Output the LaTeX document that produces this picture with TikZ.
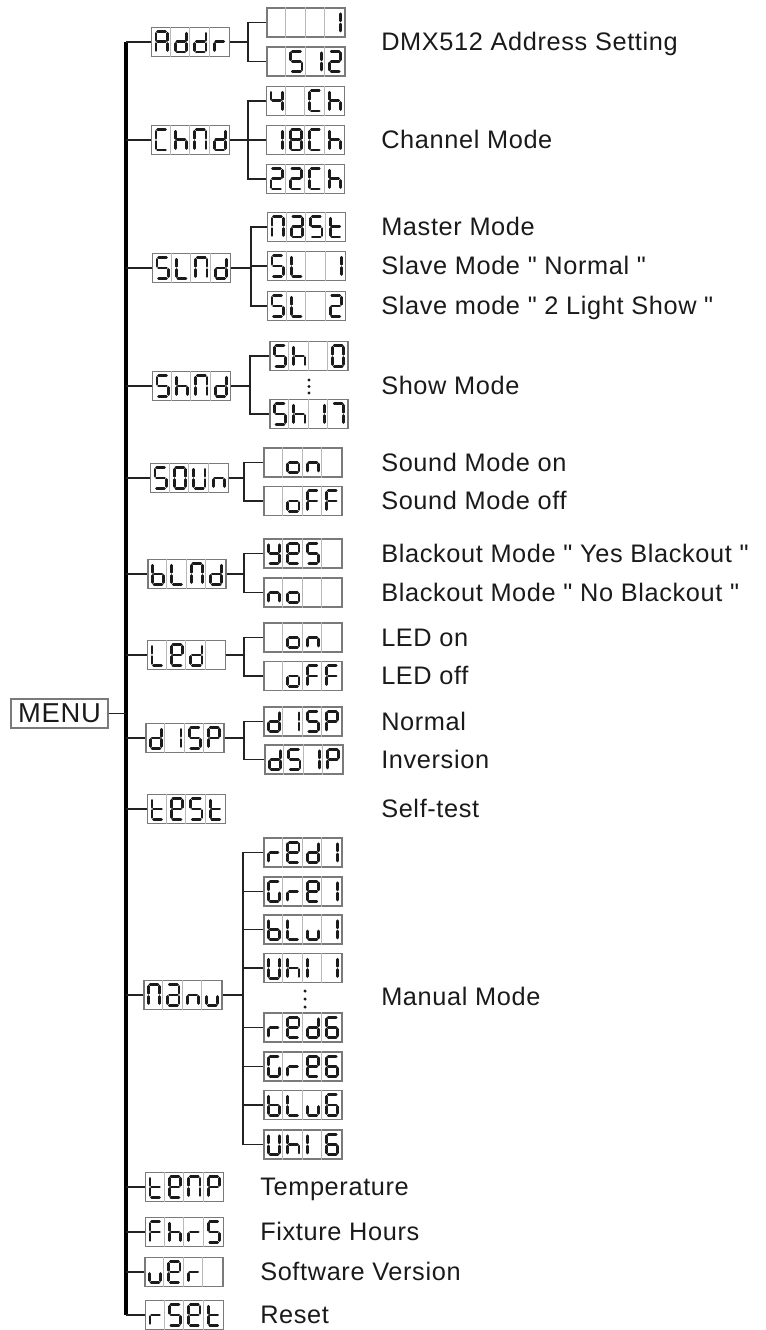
\documentclass[tikz,border=0pt]{standalone}
\usepackage{fontspec}
\newfontfamily\labfont{Liberation Sans}[LetterSpace=2.5]
\usetikzlibrary{calc}
\definecolor{ink}{HTML}{1A1A1A}
\definecolor{boxgray}{HTML}{7A7A7A}
\definecolor{divgray}{HTML}{B8B8B8}
\definecolor{linecol}{HTML}{222222}
% segment lists
\def\sdA{a,b,c,e,f,g}
\def\sdd{b,c,d,e,g}
\def\sdr{e,g}
\def\sdC{a,d,e,f}
\def\sdh{c,e,f,g}
\def\sdN{a,b,c,e,f}
\def\sdS{a,c,d,f,g}
\def\sdL{d,e,f}
\def\sdO{a,b,c,d,e,f}
\def\sdU{b,c,d,e,f}
\def\sdn{c,e,g}
\def\sdo{c,d,e,g}
\def\sdF{a,e,f,g}
\def\sdb{c,d,e,f,g}
\def\sdE{a,b,d,e,f,g}
\def\sdy{b,c,d,f,g}
\def\sdP{a,b,e,f,g}
\def\sdt{d,e,f,g}
\def\sdI{b,c}
\def\sdi{e,f}
\def\sdu{c,d,e}
\def\sdG{a,c,d,e,f}
\def\sdsix{a,c,d,e,f,g}
\def\sdseven{a,b,c}
\def\sdtwo{a,b,d,e,g}
\def\sdfour{b,c,f,g}
\def\sdeight{a,b,c,d,e,f,g}
\def\sda{a,b,c,d,e,g}
\def\sdX{z}
\newcommand\sdglyph[3]{\begin{scope}[shift={(#1,#2)}]\foreach \s in #3 {\edef\sdtmp{\noexpand\draw[segline,sg\s];}\sdtmp}\end{scope}}
\newcommand\disp[7]{%
 \node[dispbox] (#1) at (#2,#3) {};
 \foreach \k in {1,2,3}{\draw[celldiv] ($(#1.north west)+(19.4*\k,0)$) -- ($(#1.south west)+(19.4*\k,0)$);}
 \sdglyph{#2-38.8}{#3-14.5}{#4}%
 \sdglyph{#2-19.4}{#3-14.5}{#5}%
 \sdglyph{#2}{#3-14.5}{#6}%
 \sdglyph{#2+19.4}{#3-14.5}{#7}%
}
\newcommand\lbl[4]{\node[lab] (#1) at (#2,#3+8.5) {#4};}
\begin{document}
\begin{tikzpicture}[x=0.75pt,y=-0.75pt,
 sga/.style={insert path={(5.8,4.2)--(13.8,4.2)}},
 sgb/.style={insert path={(15.4,5.8)--(15.4,12.8)}},
 sgc/.style={insert path={(15.4,16.0)--(15.4,23.0)}},
 sgd/.style={insert path={(5.8,24.6)--(13.8,24.6)}},
 sge/.style={insert path={(4.2,16.0)--(4.2,23.0)}},
 sgf/.style={insert path={(4.2,5.8)--(4.2,12.8)}},
 sgg/.style={insert path={(5.8,14.4)--(13.8,14.4)}},
 sgz/.style={},
 segline/.style={line width=2.1pt,line cap=round,draw=ink},
 dispbox/.style={draw=boxgray,line width=1.1pt,minimum width=58.2pt,minimum height=21.75pt,inner sep=0pt},
 celldiv/.style={draw=divgray,line width=0.6pt},
 conn/.style={draw=linecol,line width=1.1pt},
 trunk/.style={draw=black,line width=2.3pt},
 lab/.style={anchor=base west,inner sep=0pt,text=ink,font=\labfont\fontsize{19}{22}\selectfont},
 menubox/.style={draw=boxgray,line width=1.4pt,minimum width=72.75pt,minimum height=21.75pt,inner sep=0pt,text=ink,font=\labfont\fontsize{20.5}{22}\selectfont},
 dotm/.style={fill=ink,draw=none}
]
\useasboundingbox (0,0) rectangle (765,1330);
\coordinate (T) at (126,0);
% MENU
\node[menubox] (MENU) at (59.5,713.5) {MENU};
% Addr
\disp{Addr}{190.5}{42}{\sdA}{\sdd}{\sdd}{\sdr}
\disp{A1}{306}{22.5}{\sdX}{\sdX}{\sdX}{\sdI}
\disp{A2}{306}{61.5}{\sdX}{\sdS}{\sdI}{\sdtwo}
\coordinate (bA) at (248,0);
\lbl{tA}{381}{42}{DMX512 Address Setting}
% ChNd
\disp{ChNd}{190.5}{140}{\sdC}{\sdh}{\sdN}{\sdd}
\disp{C1}{305.5}{101}{\sdfour}{\sdX}{\sdC}{\sdh}
\disp{C2}{305.5}{140}{\sdI}{\sdeight}{\sdC}{\sdh}
\disp{C3}{305.5}{179}{\sdtwo}{\sdtwo}{\sdC}{\sdh}
\coordinate (bC) at (248,0);
\lbl{tC}{381}{140}{Channel Mode}
% SLNd
\disp{SLNd}{191.5}{268}{\sdS}{\sdL}{\sdN}{\sdd}
\disp{S1}{306.5}{227}{\sdN}{\sda}{\sdS}{\sdt}
\disp{S2}{306.5}{266}{\sdS}{\sdL}{\sdX}{\sdI}
\disp{S3}{306.5}{306}{\sdS}{\sdL}{\sdX}{\sdtwo}
\coordinate (bS) at (251,0);
\lbl{tS1}{381}{227}{Master Mode}
\lbl{tS2}{381}{266}{Slave Mode " Normal "}
\lbl{tS3}{381}{306}{Slave mode " 2 Light Show "}
% ShNd
\disp{ShNd}{191.5}{386}{\sdS}{\sdh}{\sdN}{\sdd}
\disp{H1}{309}{356}{\sdS}{\sdh}{\sdX}{\sdO}
\disp{H2}{309}{414}{\sdS}{\sdh}{\sdI}{\sdseven}
\coordinate (bH) at (250,0);
\foreach \yy in {380,386.5,393} \fill[dotm] (309,\yy) circle (1.3pt);
\lbl{tH}{381}{386}{Show Mode}
% SOUn
\disp{SOUn}{189.5}{478}{\sdS}{\sdO}{\sdU}{\sdn}
\disp{O1}{303}{462.5}{\sdX}{\sdo}{\sdn}{\sdX}
\disp{O2}{303}{501}{\sdX}{\sdo}{\sdF}{\sdF}
\coordinate (bO) at (244,0);
\lbl{tO1}{381}{462.5}{Sound Mode on}
\lbl{tO2}{381}{501}{Sound Mode off}
% bLNd
\disp{bLNd}{187}{574}{\sdb}{\sdL}{\sdN}{\sdd}
\disp{B1}{303}{553.5}{\sdy}{\sdE}{\sdS}{\sdX}
\disp{B2}{303}{592.5}{\sdn}{\sdo}{\sdX}{\sdX}
\coordinate (bB) at (244,0);
\lbl{tB1}{381}{553.5}{Blackout Mode " Yes Blackout "}
\lbl{tB2}{381}{592.5}{Blackout Mode " No Blackout "}
% LEd
\disp{LEd}{186.5}{655}{\sdL}{\sdE}{\sdd}{\sdX}
\disp{L1}{303}{637.5}{\sdX}{\sdo}{\sdn}{\sdX}
\disp{L2}{303}{676}{\sdX}{\sdo}{\sdF}{\sdF}
\coordinate (bL) at (244,0);
\lbl{tL1}{381}{637.5}{LED on}
\lbl{tL2}{381}{676}{LED off}
% dISP
\disp{dISP}{185}{738}{\sdd}{\sdI}{\sdS}{\sdP}
\disp{D1}{303}{721.5}{\sdd}{\sdI}{\sdS}{\sdP}
\disp{D2}{304}{759.5}{\sdd}{\sdS}{\sdI}{\sdP}
\coordinate (bD) at (244,0);
\lbl{tD1}{381}{721.5}{Normal}
\lbl{tD2}{381}{759.5}{Inversion}
% tESt
\disp{tESt}{186.5}{809}{\sdt}{\sdE}{\sdS}{\sdt}
\lbl{tT}{381}{809}{Self-test}
% Manu
\disp{Manu}{183}{995}{\sdN}{\sda}{\sdn}{\sdu}
\disp{M1}{303}{852.5}{\sdr}{\sdE}{\sdd}{\sdI}
\disp{M2}{303}{891.5}{\sdG}{\sdr}{\sdE}{\sdI}
\disp{M3}{303}{929.5}{\sdb}{\sdL}{\sdu}{\sdI}
\disp{M4}{303}{968}{\sdU}{\sdh}{\sdi}{\sdI}
\disp{M5}{303}{1027.5}{\sdr}{\sdE}{\sdd}{\sdsix}
\disp{M6}{303}{1066.5}{\sdG}{\sdr}{\sdE}{\sdsix}
\disp{M7}{303}{1105}{\sdb}{\sdL}{\sdu}{\sdsix}
\disp{M8}{303}{1144.5}{\sdU}{\sdh}{\sdi}{\sdsix}
\coordinate (bM) at (243,0);
\foreach \yy in {991,999,1007} \fill[dotm] (305,\yy) circle (1.3pt);
\lbl{tM}{381}{997}{Manual Mode}
% bottom items
\disp{tEnP}{184.5}{1187}{\sdt}{\sdE}{\sdN}{\sdP}
\disp{FhrS}{184.5}{1232}{\sdF}{\sdh}{\sdr}{\sdS}
\disp{uEr}{184}{1272}{\sdu}{\sdE}{\sdr}{\sdX}
\disp{rSEt}{184.5}{1315}{\sdr}{\sdS}{\sdE}{\sdt}
\lbl{tTe}{260}{1187}{Temperature}
\lbl{tFh}{260}{1232}{Fixture Hours}
\lbl{tSv}{260}{1272}{Software Version}
\lbl{tRs}{260}{1315}{Reset}
% trunk
\draw[trunk] (Addr.west -| T) -- (rSEt.west -| T);
\draw[conn] (MENU.east) -- (MENU.east -| T);
\foreach \n in {Addr,ChNd,SLNd,ShNd,SOUn,bLNd,LEd,dISP,tESt,Manu,tEnP,FhrS,uEr,rSEt}
  \draw[conn] (\n.west -| T) -- (\n.west);
% branches
\draw[conn] (Addr.east) -- (Addr.east -| bA);
\draw[conn] (A1.west) -- (A1.west -| bA) -- (A2.west -| bA) -- (A2.west);
\draw[conn] (ChNd.east) -- (C2.west);
\draw[conn] (C1.west) -- (C1.west -| bC) -- (C3.west -| bC) -- (C3.west);
\draw[conn] (SLNd.east) -- (SLNd.east -| bS);
\draw[conn] (S1.west) -- (S1.west -| bS) -- (S3.west -| bS) -- (S3.west);
\draw[conn] (S2.west) -- (S2.west -| bS);
\draw[conn] (ShNd.east) -- (ShNd.east -| bH);
\draw[conn] (H1.west) -- (H1.west -| bH) -- (H2.west -| bH) -- (H2.west);
\draw[conn] (SOUn.east) -- (SOUn.east -| bO);
\draw[conn] (O1.west) -- (O1.west -| bO) -- (O2.west -| bO) -- (O2.west);
\draw[conn] (bLNd.east) -- (bLNd.east -| bB);
\draw[conn] (B1.west) -- (B1.west -| bB) -- (B2.west -| bB) -- (B2.west);
\draw[conn] (LEd.east) -- (LEd.east -| bL);
\draw[conn] (L1.west) -- (L1.west -| bL) -- (L2.west -| bL) -- (L2.west);
\draw[conn] (dISP.east) -- (dISP.east -| bD);
\draw[conn] (D1.west) -- (D1.west -| bD) -- (D2.west -| bD) -- (D2.west);
\draw[conn] (Manu.east) -- (Manu.east -| bM);
\draw[conn] (M1.west) -- (M1.west -| bM) -- (M8.west -| bM) -- (M8.west);
\foreach \n in {M2,M3,M4,M5,M6,M7}
  \draw[conn] (\n.west) -- (\n.west -| bM);
\end{tikzpicture}
\end{document}
